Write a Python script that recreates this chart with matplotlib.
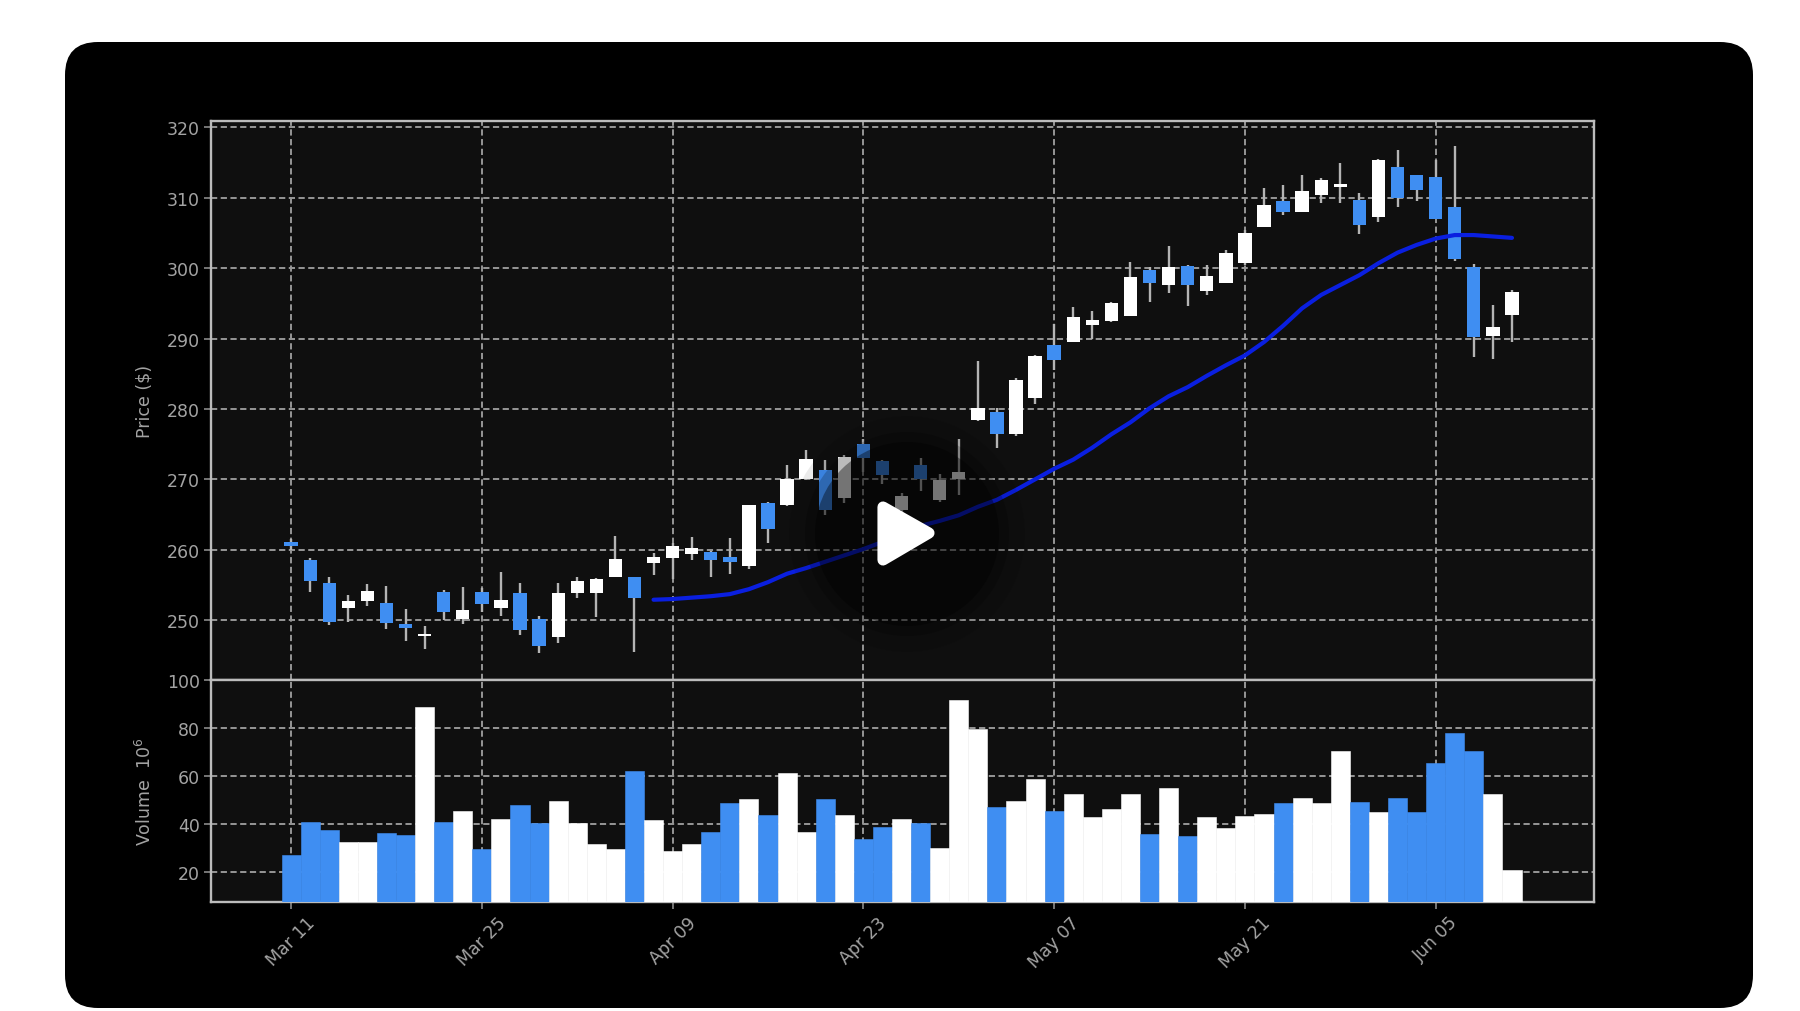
import matplotlib
matplotlib.use("Agg")
import matplotlib.pyplot as plt
from matplotlib.patches import FancyBboxPatch, Circle, Polygon
import numpy as np

opens = [261.05,258.5,255.3,251.7,252.7,252.5,249.4,247.8,254.0,250.1,254.0,251.7,253.8,250.1,247.6,253.8,253.9,256.2,256.1,258.1,
         258.8,259.4,259.7,258.9,257.7,266.6,266.4,270.0,271.3,267.3,275.0,272.6,265.6,272.1,267.1,270.0,278.4,279.5,276.5,281.6,
         289.1,289.5,291.9,292.5,293.2,299.8,297.6,300.3,296.7,297.9,300.7,305.8,309.6,308.0,310.4,311.5,309.7,307.2,314.3,313.2,
         312.9,308.7,300.2,290.3,293.4]
closes = [260.55,255.5,249.8,252.7,254.1,249.6,248.9,248.0,251.1,251.5,252.3,252.8,248.6,246.4,253.8,255.5,255.9,258.7,253.1,258.9,
          260.5,260.2,258.6,258.2,266.3,262.9,270.0,272.9,265.6,273.2,273.1,270.6,267.7,270.0,269.9,271.0,280.1,276.5,284.1,287.5,
          286.9,293.1,292.7,295.0,298.7,297.9,300.2,297.6,298.9,302.2,305.0,308.9,308.0,310.9,312.5,312.0,306.1,315.3,310.0,311.1,
          307.0,301.3,290.2,291.6,296.6]
highs = [261.5,258.8,256.2,253.6,255.1,254.8,251.6,249.1,254.3,254.7,254.5,256.9,255.3,250.6,255.3,256.1,256.0,262.0,256.2,259.5,
         261.0,261.8,259.8,261.6,266.4,266.8,272.1,274.1,272.7,273.4,275.7,272.7,268.0,273.0,270.7,275.8,286.8,280.2,284.4,287.7,
         292.0,294.5,293.9,295.2,300.9,300.2,303.1,300.4,300.4,302.6,305.4,311.4,311.8,313.2,312.8,315.0,310.7,315.5,316.8,313.3,
         315.4,317.4,300.6,294.7,296.9]
lows = [260.0,254.0,249.3,249.7,252.0,248.8,247.1,245.9,250.0,249.4,251.2,250.6,247.9,245.3,246.8,253.2,250.4,256.2,245.5,256.4,
        255.8,258.5,256.1,256.6,257.3,261.0,266.2,269.9,265.0,266.6,271.0,269.4,265.0,268.4,266.8,267.8,278.3,274.5,276.2,280.7,
        285.5,289.5,290.0,292.4,293.2,295.2,296.4,294.6,296.2,297.9,300.4,305.8,307.5,308.0,309.3,309.3,304.8,306.6,308.7,309.6,
        307.0,301.0,287.4,287.1,289.5]
volumes = [27,41,37.5,32.6,32.6,36.3,35.3,88.7,41,45.5,29.4,42,47.9,40.2,49.7,40.3,31.5,29.7,62,41.6,
           28.7,31.6,36.8,48.6,50.4,43.8,61.5,36.7,50.4,43.8,33.9,38.8,42,40.2,30.1,91.8,79.9,46.9,49.7,58.6,
           45.5,52.7,42.7,46.4,52.7,35.7,55,35,42.7,38.5,43.3,44.1,48.8,51,48.6,70.4,49.2,45,51,45,
           65.6,78,70.4,52.7,20.8]
sma_start = 19
sma = [252.9,253.0,253.2,253.4,253.7,254.4,255.4,256.6,257.4,258.3,259.2,260.1,261.1,262.2,263.4,264.1,264.9,266.1,267.1,268.5,
       270.0,271.5,272.8,274.5,276.4,278.1,280.1,281.8,283.1,284.7,286.2,287.6,289.5,291.8,294.3,296.2,297.6,299.0,300.7,302.2,
       303.3,304.2,304.7,304.7,304.5,304.3]
date_labels = ["Mar 11","Mar 25","Apr 09","Apr 23","May 07","May 21","Jun 05"]
price_ticks = [250,260,270,280,290,300,310,320]
volume_ticks = [20,40,60,80,100]

W, H = 1800, 1012
PANEL = "#0f0f0f"; BLUE = "#3f8ef2"; WHITE = "#ffffff"; WICK = "#b4b4b4"
SPINE = "#bcbcbc"; GRID = "#969696"; TEXT = "#a3a3a3"; LINE = "#0a1fe0"

fig = plt.figure(figsize=(W/100, H/100), dpi=100, facecolor="white")

def rect(l, t, r, b):
    return [l/W, 1-b/H, (r-l)/W, (b-t)/H]

bg = fig.add_axes([0,0,1,1], zorder=0)
bg.set_xlim(0,W); bg.set_ylim(H,0); bg.axis("off")
R = 33
bg.add_patch(FancyBboxPatch((65+R,43+R), 1753-65-2*R, 1009-43-2*R,
             boxstyle=f"round,pad={R},rounding_size={R}", fc="black", ec="none"))

ax1 = fig.add_axes(rect(211,122,1594,681), zorder=1)
ax2 = fig.add_axes(rect(211,681,1594,903), sharex=ax1, zorder=1)

idx = np.arange(len(opens))
o = np.array(opens); c = np.array(closes)
colors = [WHITE if ci >= oi else BLUE for oi, ci in zip(o, c)]

for ax in (ax1, ax2):
    ax.set_facecolor(PANEL)
    ax.set_axisbelow(True)
    ax.grid(True, color=GRID, linestyle=(0,(3.2,1.8)), linewidth=1.4)
    for s in ax.spines.values():
        s.set_color(SPINE); s.set_linewidth(1.7)
    ax.tick_params(colors=TEXT, labelsize=12.5, length=5, width=1.1, color=GRID, pad=3)

ax1.vlines(idx, lows, highs, color=WICK, linewidth=1.7, zorder=3)
ax1.bar(idx, np.maximum(np.abs(c-o),0.25), bottom=np.minimum(o,c), width=0.7, color=colors, zorder=4)
ax1.plot(idx[sma_start:], sma, color=LINE, linewidth=3.0, zorder=5, solid_capstyle="round")
ax1.set_ylim(241.5,320.9)
ax1.set_yticks(price_ticks)
ax1.set_ylabel("Price ($)", color=TEXT, fontsize=12.5)
ax1.yaxis.set_label_coords((154-211)/(1594-211), 0.5)
ax1.tick_params(axis="x", labelbottom=False, length=0)

ax2.bar(idx, volumes, width=1.0, color=colors, edgecolor=colors, linewidth=0.4, zorder=3)
ax2.set_ylim(7.35,100.2)
ax2.set_yticks(volume_ticks)
ax2.set_ylabel("Volume  $10^6$", color=TEXT, fontsize=12.5)
ax2.yaxis.set_label_coords((155-211)/(1594-211), 0.5)
ax2.set_xlim(-4.2,68.3)
ax2.set_xticks(idx[::10])
ax2.set_xticklabels(date_labels, rotation=45, ha="center", color=TEXT)

ov = fig.add_axes([0,0,1,1], zorder=2)
ov.set_xlim(0,W); ov.set_ylim(H,0); ov.axis("off"); ov.patch.set_alpha(0)
for r, a in [(118,0.08),(102,0.2),(92,0.38)]:
    ov.add_patch(Circle((907,535), r, fc="black", ec="none", alpha=a))
ov.add_patch(Polygon([(883,508),(929,534),(883,561)], closed=True, fc="white", ec="white",
                     linewidth=8, joinstyle="round"))

fig.savefig("out.png", dpi=100, facecolor="white")
